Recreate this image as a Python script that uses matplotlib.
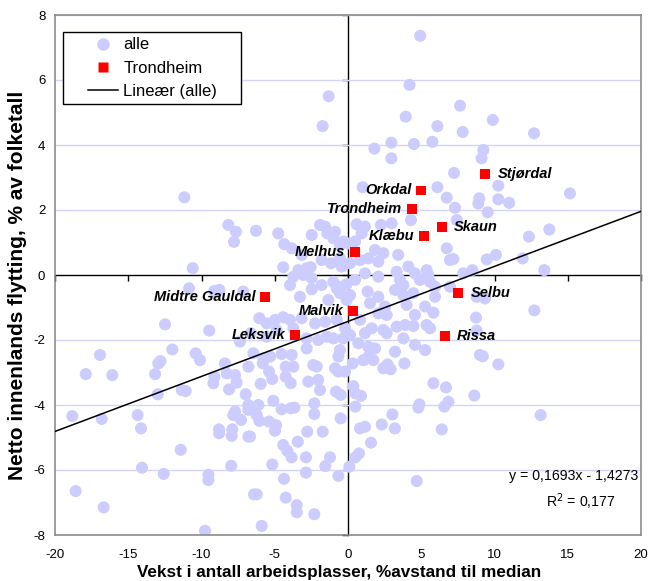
import matplotlib
matplotlib.use("Agg")
import matplotlib.pyplot as plt
from matplotlib.lines import Line2D
from matplotlib.legend_handler import HandlerLine2D
import numpy as np

plt.rcParams['font.family'] = ['Liberation Sans', 'DejaVu Sans']
plt.rcParams['axes.unicode_minus'] = False

# ---- data: all municipalities ("alle") ----
alle_pts = [
    (4.93,7.36),(4.2,5.85),(-1.32,5.5),(-1.73,4.58),(3.94,4.87),(6.1,4.58),(1.8,3.89),(2.96,4.07),
    (2.96,3.59),(4.5,4.03),(5.76,4.1),(6.1,2.7),(1.0,2.7),
    (7.65,5.21),(9.88,4.77),(7.83,4.4),(12.7,4.36),(9.24,3.85),(9.12,3.59),(7.24,3.14),(10.26,2.75),
    (6.74,2.38),(8.96,2.36),(8.9,2.2),(10.26,2.33),(11.0,2.22),(15.15,2.51),(7.3,2.07),(9.53,1.93),
    (7.42,1.69),(13.74,1.4),(12.35,1.18),(6.74,0.82),(6.96,0.46),(7.19,0.49),(9.47,0.48),(10.1,0.62),
    (11.92,0.51),(13.4,0.15),(8.49,0.15),(7.87,0.05),(6.96,-0.36),(8.78,-0.67),(9.35,-0.72),
    (12.72,-1.09),(8.74,-1.31),(8.78,-1.71),(9.01,-2.46),(9.2,-2.5),
    (10.26,-2.75),(8.62,-3.71),(6.85,-3.9),(13.15,-4.31),
    (0.36,-3.42),(0.5,-3.64),(0.89,-3.72),(0.5,-4.05),(5.83,-3.33),(6.69,-3.46),(4.87,-3.98),
    (4.8,-4.08),(3.03,-4.29),(6.58,-4.05),(2.3,-4.6),(3.2,-4.72),(1.16,-4.67),(0.82,-4.72),
    (1.57,-5.16),(6.4,-4.75),(0.75,-5.49),(0.5,-5.61),(0.09,-5.9),(4.69,-6.34),(2.41,-2.87),
    (2.91,-2.9),(3.85,-2.72),(1.73,-2.62),(1.05,-2.62),(0.32,-2.72),(2.7,-2.75),
    (-5.82,-2.72),(-3.73,-2.82),(-4.25,-2.82),(-2.37,-2.77),(-2.14,-2.82),(-0.89,-2.87),(-0.66,-2.97),
    (-0.2,-2.97),(-5.39,-2.97),(-5.17,-3.2),(-4.25,-3.13),(-3.91,-3.33),(-2.71,-3.28),(-2.03,-3.23),
    (-5.96,-3.35),(-1.91,-3.54),(-0.82,-3.59),(-0.5,-3.69),(-5.1,-3.87),(-6.12,-4.0),(-6.69,-4.08),
    (-4.53,-4.13),(-3.91,-4.1),(-3.66,-4.08),(-2.3,-3.95),(-2.3,-4.28),(-0.5,-4.41),(-6.23,-4.31),
    (-6.05,-4.49),(-5.39,-4.51),(-4.91,-4.62),(-4.98,-4.79),(-2.78,-4.82),(-1.73,-4.82),(-3.43,-5.13),
    (-4.42,-5.23),(-4.14,-5.41),(-3.85,-5.61),(-2.87,-5.61),(-1.23,-5.61),(-1.55,-5.88),(-5.17,-5.83),
    (-2.87,-6.08),(-4.37,-6.27),(-0.66,-6.18),(-6.69,-4.97),(-6.23,-6.75),(-4.25,-6.85),(-3.5,-7.08),
    (-3.5,-7.3),(-2.3,-7.36),(-5.89,-7.72),
    (-17.9,-3.05),(-16.09,-3.08),(-18.82,-4.34),(-16.81,-4.43),(-14.36,-4.31),(-14.13,-4.72),
    (-18.59,-6.65),(-16.68,-7.15),(-14.06,-5.93),(-12.58,-6.12),(-11.42,-5.38),(-9.53,-6.15),
    (-9.53,-6.31),(-9.76,-7.87),(-7.97,-5.87),(-12.95,-2.72),(-12.8,-2.65),(-13.17,-3.05),
    (-12.99,-3.67),(-11.35,-3.54),(-11.08,-3.57),(-10.1,-2.62),(-9.19,-3.33),(-9.12,-3.13),
    (-8.4,-2.72),(-8.28,-3.03),(-7.71,-3.08),(-7.6,-3.31),(-6.8,-2.82),(-8.12,-3.52),(-6.98,-3.67),
    (-6.8,-4.0),(-6.8,-4.15),(-7.71,-4.2),(-7.83,-4.31),(-7.3,-4.46),(-8.8,-4.75),(-8.8,-4.87),
    (-7.9,-4.75),(-7.94,-4.95),(-6.8,-4.97),(-6.42,-6.75),
    (-11.17,2.39),(-8.17,1.54),(-7.65,1.33),(-7.78,1.02),(-10.6,0.21),(-10.85,-0.41),(-9.13,-0.49),
    (-8.78,-0.46),(-7.15,-0.51),(-12.49,-1.52),(-9.47,-1.71),(-7.37,-2.05),(-16.93,-2.46),
    (-11.99,-2.29),(-10.4,-2.41),
    (-6.28,1.36),(-4.76,1.28),(-4.35,0.95),(-3.84,0.82),(-2.48,1.23),(-1.91,1.54),(-1.57,1.49),
    (-1.41,1.28),(-0.89,1.33),(-1.0,1.13),(-0.55,0.92),(-0.32,1.03),(-3.16,0.62),(-4.42,0.24),
    (-3.39,0.15),(-2.82,0.21),(-2.55,0.24),(-1.8,0.46),(-1.16,0.36),(-0.43,0.26),(-0.55,0.51),
    (-3.73,-0.05),(-3.05,0.0),(-2.48,-0.1),(-3.96,-0.31),(-2.48,-0.44),(-1.8,-0.31),(-1.0,-0.21),
    (-0.77,-0.41),(-0.43,-0.36),(-0.09,-0.28),(0.14,-0.62),(-3.28,-0.67),(-1.34,-0.77),(-0.55,-0.56),
    (-0.09,-0.77),(-6.05,-1.33),(-5.55,-1.49),(-4.98,-1.38),(-4.42,-1.3),(-3.96,-1.38),(-3.16,-1.33),
    (-2.25,-1.49),(-1.57,-1.44),(-0.77,-1.38),(-0.2,-1.64),(-6.64,-1.79),(-5.55,-1.9),(-4.87,-1.69),
    (-3.73,-1.64),(-2.82,-1.95),(-2.03,-2.0),(-1.45,-1.9),(-1.0,-1.95),(-0.32,-1.95),(-6.46,-2.41),
    (-5.78,-2.56),(-5.32,-2.51),(-4.53,-2.43),(-3.84,-2.46),(-2.82,-2.26),(-0.66,-2.51),(-0.55,-2.31),
    (4.3,1.69),(0.59,1.56),(1.16,1.49),(2.25,1.54),(2.98,1.59),(0.93,1.28),(0.48,1.03),(0.02,0.97),
    (1.84,0.77),(2.41,0.67),(3.43,0.62),(0.82,0.46),(1.39,0.51),(2.07,0.41),(0.14,0.36),(4.12,0.26),
    (5.37,0.15),(5.48,0.0),(4.57,0.05),(3.32,0.1),(2.07,-0.05),(1.16,0.05),(0.48,-0.15),(3.55,-0.15),
    (3.78,-0.31),(4.91,-0.15),(5.6,-0.21),(5.94,-0.36),(1.34,-0.51),(2.07,-0.67),(3.21,-0.46),
    (3.78,-0.62),(4.46,-0.56),(5.94,-0.67),(1.5,-0.87),(2.53,-0.97),(2.64,-1.23),(4.0,-0.92),
    (5.26,-0.97),(4.57,-1.23),(5.83,-1.16),(2.07,-1.18),(0.82,-1.38),(1.62,-1.64),(1.16,-1.79),
    (0.14,-1.85),(2.41,-1.69),(3.32,-1.59),(3.89,-1.54),(4.46,-1.57),(5.37,-1.54),(5.6,-1.64),
    (2.64,-1.79),(3.78,-1.95),(0.7,-2.1),(1.39,-2.21),(1.84,-2.26),(3.21,-2.36),(4.57,-2.15),
    (5.26,-2.31),(1.39,-2.51),
]
alle_x = [p[0] for p in alle_pts]
alle_y = [p[1] for p in alle_pts]

# ---- data: Trondheim region ----
trd_names = ["Stjørdal", "Orkdal", "Trondheim", "Skaun", "Klæbu", "Melhus",
             "Selbu", "Midtre Gauldal", "Malvik", "Leksvik", "Rissa"]
trd_x = [9.35, 4.98, 4.37, 6.4, 5.2, 0.48, 7.5, -5.67, 0.34, -3.6, 6.6]
trd_y = [3.1, 2.6, 2.03, 1.48, 1.2, 0.7, -0.55, -0.68, -1.1, -1.85, -1.88]
trd_side = ["right", "left", "left", "right", "left", "left", "right", "left", "left", "left", "right"]

# regression
slope = 0.1693
intercept = -1.4273
r2 = 0.177

x_ticks = [-20, -15, -10, -5, 0, 5, 10, 15, 20]
y_ticks = [-8, -6, -4, -2, 0, 2, 4, 6, 8]

W, H = 666, 581
fig = plt.figure(figsize=(W/100, H/100), dpi=100)
rect = [55/W, 1-535/H, 586/W, 520/H]

# background axes: crossing axes at zero with tick marks
axb = fig.add_axes(rect)
axb.set_xlim(-20, 20)
axb.set_ylim(-8, 8)
for s in ['top', 'right']:
    axb.spines[s].set_visible(False)
axb.spines['left'].set_position(('data', 0))
axb.spines['bottom'].set_position(('data', 0))
for s in ['left', 'bottom']:
    axb.spines[s].set_color('black')
    axb.spines[s].set_linewidth(1.0)
axb.set_xticks(x_ticks)
axb.set_yticks(y_ticks)
axb.tick_params(direction='out', length=4, width=1, color='black', labelleft=False, labelbottom=False)

# main axes
ax = fig.add_axes(rect)
ax.patch.set_alpha(0)
ax.set_xlim(-20, 20)
ax.set_ylim(-8, 8)
for s in ax.spines.values():
    s.set_color('#8c8c8c')
    s.set_linewidth(1.2)
ax.set_xticks(x_ticks)
ax.set_yticks(y_ticks)
ax.set_xticklabels([str(t) for t in x_ticks])
ax.set_yticklabels([str(t) for t in y_ticks])
ax.tick_params(length=0, labelsize=9.5)
ax.tick_params(axis='x', pad=10)
ax.tick_params(axis='y', pad=7)
ax.yaxis.grid(True, color='#d4d4f7', linewidth=1.0, zorder=0)
ax.set_axisbelow(True)
for t, gl in zip(y_ticks, ax.get_ygridlines()):
    if t == 0:
        gl.set_visible(False)

ax.scatter(alle_x, alle_y, s=75, color='#ccccff', edgecolors='none', zorder=2)
xl = np.array([-20, 20])
ax.plot(xl, slope*xl + intercept, color='black', lw=1.1, zorder=3)
ax.scatter(trd_x, trd_y, s=48, marker='s', color='#ff0000', edgecolors='none', zorder=4)

for n, x, y, side in zip(trd_names, trd_x, trd_y, trd_side):
    off = 9 if side == 'right' else -7
    ax.annotate(n, (x, y), xytext=(off, 0), textcoords='offset points',
                ha='left' if side == 'right' else 'right', va='center',
                fontsize=10.5, fontweight='bold', fontstyle='italic', zorder=5)

ax.text(19.8, -6.17, f"y = {slope:.4f}x - {abs(intercept):.4f}".replace('.', ','),
        ha='right', va='center', fontsize=10.2)
ax.text(18.3, -6.97, f"R$^2$ = {r2:.3f}".replace('.', ','), ha='right', va='center', fontsize=10.2)

ax.set_xlabel("Vekst i antall arbeidsplasser, %avstand til median", fontsize=12.3, fontweight='bold')
ax.xaxis.set_label_coords((339.5 - 55) / 586, -0.058)
ax.set_ylabel("Netto innenlands flytting, % av folketall", fontsize=15, fontweight='bold')
ax.yaxis.set_label_coords((27 - 55) / 586, 0.48)

handles = [
    Line2D([], [], marker='o', color='none', markerfacecolor='#ccccff', markeredgecolor='none', markersize=9),
    Line2D([], [], marker='s', color='none', markerfacecolor='#ff0000', markeredgecolor='none', markersize=7),
    Line2D([], [], color='black', lw=1.1),
]
hmap = {h: HandlerLine2D(xpad=1.18) for h in handles}
leg = ax.legend(handles, ["alle", "Trondheim", "Lineær (alle)    "], loc='upper left',
                bbox_to_anchor=(0.0137, 0.967), borderaxespad=0, fontsize=12,
                fancybox=False, frameon=True, edgecolor='black', framealpha=1,
                handlelength=3.0, handletextpad=0.3, labelspacing=0.5, borderpad=0.32,
                handler_map=hmap)
leg.get_frame().set_linewidth(1.0)

fig.savefig("out.png", dpi=100)
